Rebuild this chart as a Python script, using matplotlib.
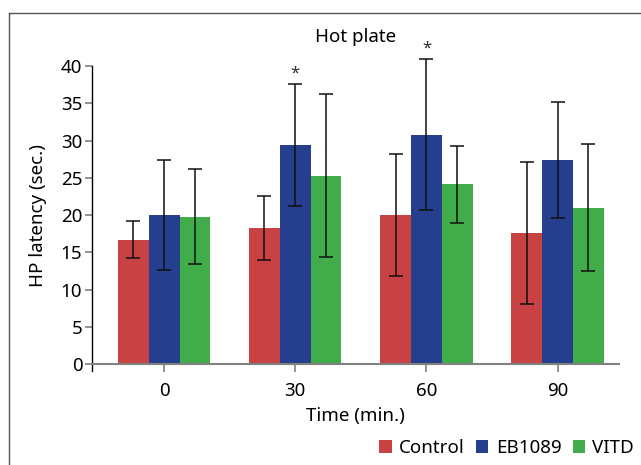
import numpy as np
import matplotlib
matplotlib.use('Agg')
import matplotlib.pyplot as plt
from matplotlib.lines import Line2D

plt.rcParams['font.family'] = ['Noto Sans', 'DejaVu Sans']

# 数据
times = ['0', '30', '60', '90']
groups = ['Control', 'EB1089', 'VITD']
control = [16.7, 18.3, 20.0, 17.6]
eb1089 = [20.0, 29.4, 30.8, 27.4]
vitd = [19.8, 25.3, 24.1, 21.0]
control_sd = [2.5, 4.3, 8.2, 9.5]
eb1089_sd = [7.4, 8.2, 10.1, 7.8]
vitd_sd = [6.4, 10.9, 5.2, 8.5]
star_groups = [1, 2]   # 标星号的时间点 (EB1089)

colors = ['#C84244', '#253F8E', '#41AC4A']

fig = plt.figure(figsize=(6.41, 4.65), dpi=100)
ax = fig.add_axes([0.1435, 0.2172, 0.8225, 0.6408])

x = np.arange(len(times))
w = 0.235
series = [control, eb1089, vitd]
sds = [control_sd, eb1089_sd, vitd_sd]
for i, (vals, sd) in enumerate(zip(series, sds)):
    pos = x + (i - 1) * w
    ax.bar(pos, vals, width=w, color=colors[i], label=groups[i], zorder=2)
    ax.errorbar(pos, vals, yerr=sd, fmt='none', ecolor='#111111', elinewidth=1.1,
                capsize=5, capthick=1.1, zorder=3, clip_on=False)

# 星号
for g in star_groups:
    ax.text(x[g], eb1089[g] + eb1089_sd[g] + 0.3, '*', ha='center', va='bottom',
            fontsize=12, color='#333333')

ax.set_xlim(-0.55, 3.47)
ax.set_ylim(0, 40)
ax.set_yticks(range(0, 41, 5))
ax.set_xticks(x)
ax.set_xticklabels(times)

for s in ['top', 'right']:
    ax.spines[s].set_visible(False)
ax.spines['bottom'].set_color('#808080')
ax.spines['bottom'].set_linewidth(1.5)
ax.spines['left'].set_color('black')
ax.spines['left'].set_linewidth(1.0)
# 左轴向下延伸一点
ax.plot([0, 0], [-0.025, 0], transform=ax.transAxes, color='black', lw=1.0, clip_on=False)

ax.tick_params(axis='x', colors='#808080', length=6, width=1.2, labelsize=13.5, labelcolor='black', pad=7)
ax.tick_params(axis='y', colors='#808080', length=5, width=1.2, labelsize=13.5, labelcolor='black', pad=2)

ax.set_title('Hot plate', fontsize=13.5, pad=17)
ax.set_xlabel('Time (min.)', fontsize=13.5, labelpad=5)
ax.set_ylabel('HP latency (sec.)', fontsize=13.5, labelpad=10)

ax.legend(loc='center right', bbox_to_anchor=(634 / 641, 1 - 448 / 465),
          bbox_transform=fig.transFigure, ncol=3, frameon=False,
          fontsize=13.5, handlelength=0.65, handleheight=0.65, handletextpad=0.4,
          columnspacing=0.6, borderaxespad=0, borderpad=0)

# 外框（只有上边和左边可见）
fig.add_artist(Line2D([9 / 641, 9 / 641], [0, 1 - 13 / 465], color='#555555', lw=1.0))
fig.add_artist(Line2D([9 / 641, 1], [1 - 13 / 465, 1 - 13 / 465], color='#555555', lw=1.0))

fig.savefig('out.png', dpi=100)
